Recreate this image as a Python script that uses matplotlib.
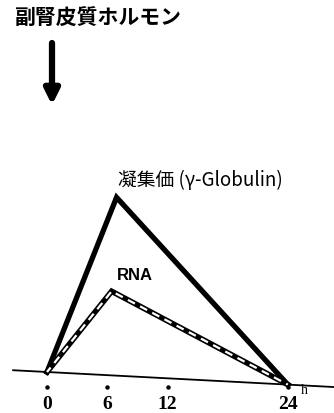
import matplotlib.pyplot as plt
from matplotlib.transforms import Affine2D

plt.rcParams['font.family'] = ['Noto Sans CJK JP', 'DejaVu Sans']

# time after hormone injection (h) and response height (arbitrary units)
hours = [0, 6, 24]
titer = [0, 89, 0]      # 凝集価 (γ-globulin)
rna = [0, 42, 0]        # RNA
tick_hours = [0, 6, 12, 24]
tick_labels = ['0', '6', '12', '24']

fig = plt.figure(figsize=(3.34, 4.14), dpi=100)
ax = fig.add_axes([0, 0, 1, 1])
ax.set_xlim(-4.68, 28.56)
ax.set_ylim(-20.5, 186.5)
ax.axis('off')

# the time axis is drawn slightly tilted, so tilt all curves with it
origin = ax.transData.transform((0, 0))
tilt = ax.transData + Affine2D().rotate_deg_around(origin[0], origin[1], -3.0)

ax.plot([-3.4, 28.6], [0, 0], color='black', lw=1.3, transform=tilt,
        solid_capstyle='round')
ax.plot(hours, titer, color='black', lw=3.8, transform=tilt,
        solid_joinstyle='miter')
ax.plot(hours, rna, color='black', lw=4.0, transform=tilt,
        solid_joinstyle='miter')
ax.plot(hours, rna, color='white', lw=1.6, transform=tilt,
        linestyle=(1, (3.6, 2.6)))

# hour labels with a dot above each
for h, lab in zip(tick_hours, tick_labels):
    ax.plot(h, -7.5, 'o', color='black', ms=2.2)
    ax.text(h, -16, lab, ha='center', va='center', fontsize=14,
            family='Liberation Serif', fontweight='bold')
ax.text(25.6, -8.8, 'h', ha='center', va='center', fontsize=10,
        family='Liberation Serif')

ax.text(8.76, 49, 'RNA', ha='center', va='center', fontsize=12,
        family='Liberation Sans', fontweight='bold')
fig.text(0.353, 0.565, '凝集価 (γ-Globulin)', ha='left', va='center',
         fontsize=13.5)

fig.text(0.042, 0.957, '副腎皮質ホルモン', ha='left', va='center',
         fontsize=15, fontweight='bold')
ax.annotate('', xy=(52, 308), xytext=(52, 370),
            xycoords='figure pixels', textcoords='figure pixels',
            arrowprops=dict(arrowstyle='-|>', lw=4.5, color='black',
                            mutation_scale=22, shrinkA=0, shrinkB=0))

fig.savefig('out.png', dpi=100)
